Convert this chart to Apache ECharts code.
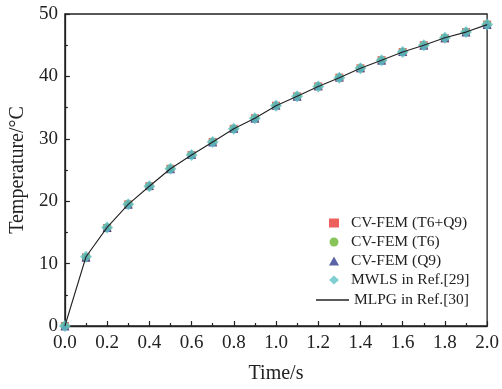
<!DOCTYPE html>
<html>
<head>
<meta charset="utf-8">
<script src="https://cdn.jsdelivr.net/npm/echarts@6/dist/echarts.min.js"></script>
<style>
  html, body { margin: 0; padding: 0; background: #fff; }
  #chart { width: 502px; height: 389px; }
</style>
</head>
<body>
<div id="chart"></div>
<script>
// Time steps (s)
const times = [0.0, 0.1, 0.2, 0.3, 0.4, 0.5, 0.6, 0.7, 0.8, 0.9, 1.0,
               1.1, 1.2, 1.3, 1.4, 1.5, 1.6, 1.7, 1.8, 1.9, 2.0];

// Temperature (°C) for each method
const cvfemT6Q9 = [0, 11.0, 15.7, 19.5, 22.4, 25.2, 27.4, 29.5, 31.6, 33.3, 35.3,
                   36.8, 38.4, 39.8, 41.3, 42.6, 43.9, 45.0, 46.1, 47.1, 48.3];
const cvfemT6   = [0, 11.0, 15.8, 19.5, 22.4, 25.2, 27.4, 29.5, 31.6, 33.3, 35.3,
                   36.8, 38.4, 39.8, 41.3, 42.6, 43.9, 45.0, 46.2, 47.1, 48.3];
const cvfemQ9   = [0, 11.0, 15.8, 19.5, 22.5, 25.2, 27.5, 29.5, 31.7, 33.3, 35.4,
                   36.8, 38.5, 39.9, 41.4, 42.6, 44.0, 45.0, 46.2, 47.1, 48.3];
const mwls      = [0, 11.1, 15.8, 19.5, 22.4, 25.2, 27.4, 29.5, 31.6, 33.3, 35.3,
                   36.8, 38.4, 39.8, 41.3, 42.6, 43.9, 45.0, 46.2, 47.1, 48.3];
const mlpg      = [0, 11.1, 15.8, 19.5, 22.4, 25.2, 27.4, 29.5, 31.6, 33.3, 35.3,
                   36.8, 38.4, 39.8, 41.3, 42.6, 43.9, 45.0, 46.2, 47.1, 48.3];

const seriesNames = ['CV-FEM (T6+Q9)', 'CV-FEM (T6)', 'CV-FEM (Q9)', 'MWLS in Ref.[29]', 'MLPG in Ref.[30]'];
const xTicks = { min: 0, max: 2.0, interval: 0.2 };
const yTicks = { min: 0, max: 50, interval: 10 };

const pairs = arr => times.map((t, i) => [t, arr[i]]);
const serif = 'Liberation Serif';
const ink = '#222';

const chart = echarts.init(document.getElementById('chart'), null, { renderer: 'canvas' });

chart.setOption({
  backgroundColor: '#ffffff',
  animation: false,
  grid: {
    left: 61, right: 12, top: 14, bottom: 59,
    show: true, borderColor: ink, borderWidth: 1.3, backgroundColor: 'transparent'
  },
  xAxis: {
    type: 'value',
    min: xTicks.min, max: xTicks.max, interval: xTicks.interval,
    name: 'Time/s', nameLocation: 'middle', nameGap: 38,
    nameTextStyle: { fontFamily: serif, fontSize: 20, color: ink },
    axisLine: { show: true, lineStyle: { color: ink, width: 1.3 } },
    axisTick: { show: true, inside: true, length: 5, lineStyle: { color: ink, width: 1.2 } },
    minorTick: { show: true, splitNumber: 2, length: 3, lineStyle: { color: ink, width: 1.2 } },
    axisLabel: {
      fontFamily: serif, fontSize: 19, color: ink, margin: 8,
      formatter: v => v.toFixed(1)
    },
    splitLine: { show: false }
  },
  yAxis: {
    type: 'value',
    min: yTicks.min, max: yTicks.max, interval: yTicks.interval,
    name: 'Temperature/\u00B0C', nameLocation: 'middle', nameGap: 30,
    nameTextStyle: { fontFamily: serif, fontSize: 20, color: ink },
    axisLine: { show: true, lineStyle: { color: ink, width: 1.3 } },
    axisTick: { show: true, inside: true, length: 5, lineStyle: { color: ink, width: 1.2 } },
    minorTick: { show: true, splitNumber: 2, length: 3, lineStyle: { color: ink, width: 1.2 } },
    axisLabel: { fontFamily: serif, fontSize: 19, color: ink, margin: 7 },
    splitLine: { show: false }
  },
  legend: [
    {
      orient: 'vertical', left: 324, top: 210,
      itemWidth: 10, itemHeight: 9, itemGap: 3,
      data: seriesNames.slice(0, 4),
      textStyle: { fontFamily: serif, fontSize: 15.5, color: ink, padding: [0, 0, 0, 7] }
    },
    {
      orient: 'vertical', left: 311, top: 287,
      itemWidth: 33, itemHeight: 1.5,
      data: [{ name: seriesNames[4], icon: 'rect' }],
      itemStyle: { color: ink, borderWidth: 0 },
      lineStyle: { width: 0 },
      textStyle: { fontFamily: serif, fontSize: 15.5, color: ink }
    }
  ],
  series: [
    {
      name: seriesNames[0], type: 'scatter', symbol: 'rect', symbolSize: 8,
      itemStyle: { color: '#e83a35' }, data: pairs(cvfemT6Q9), z: 2
    },
    {
      name: seriesNames[1], type: 'scatter', symbol: 'circle', symbolSize: 8,
      itemStyle: { color: '#6cb532' }, data: pairs(cvfemT6), z: 3
    },
    {
      name: seriesNames[2], type: 'scatter', symbol: 'triangle', symbolSize: 9,
      itemStyle: { color: '#2f3c8f' }, data: pairs(cvfemQ9), z: 4
    },
    {
      name: seriesNames[3], type: 'scatter', symbol: 'diamond', symbolSize: 12,
      itemStyle: { color: '#62c3c6' }, data: pairs(mwls), z: 5
    },
    {
      name: seriesNames[4], type: 'line', symbol: 'none', smooth: false,
      lineStyle: { color: ink, width: 1.1 }, itemStyle: { color: ink },
      data: pairs(mlpg), z: 6
    }
  ]
});
</script>
</body>
</html>
